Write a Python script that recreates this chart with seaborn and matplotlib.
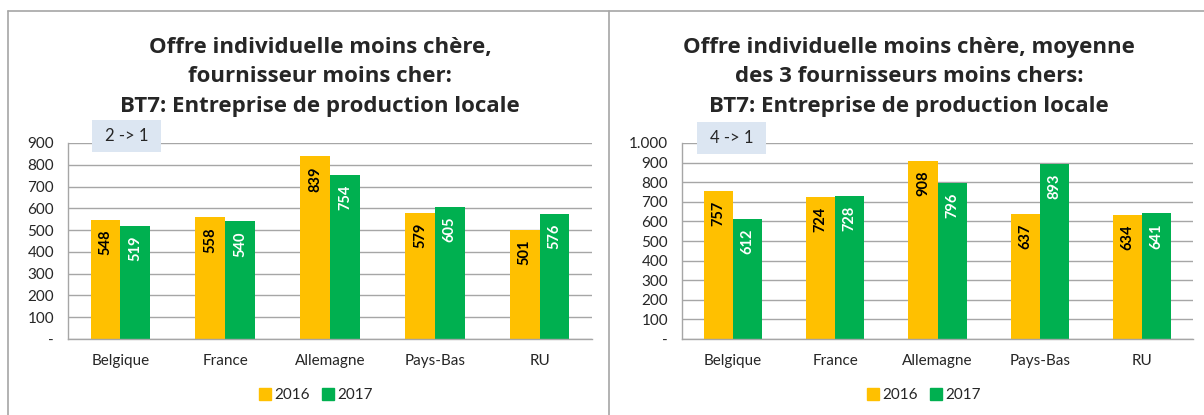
import matplotlib
matplotlib.use("Agg")
import matplotlib.pyplot as plt
from matplotlib.lines import Line2D
from matplotlib.patches import Rectangle
import numpy as np
import pandas as pd
import seaborn as sns

# data
pays = ["Belgique", "France", "Allemagne", "Pays-Bas", "RU"]
annees = ["2016", "2017"]
gauche_2016 = [548, 558, 839, 579, 501]
gauche_2017 = [519, 540, 754, 605, 576]
droite_2016 = [757, 724, 908, 637, 634]
droite_2017 = [612, 728, 796, 893, 641]

titre_gauche = "Offre individuelle moins chère,\nfournisseur moins cher:\nBT7: Entreprise de production locale"
titre_droite = "Offre individuelle moins chère, moyenne\ndes 3 fournisseurs moins chers:\nBT7: Entreprise de production locale"
note_gauche = "2 -> 1"
note_droite = "4 -> 1"

couleurs = {"2016": "#FFC000", "2017": "#00B050"}
couleur_texte = {"2016": "black", "2017": "white"}
gris = "#A6A6A6"

sns.set_theme(style="white")
plt.rcParams["font.family"] = ["Lato", "DejaVu Sans"]

W, H = 1204, 415
fig = plt.figure(figsize=(W / 100, H / 100), dpi=100)


def fx(px):
    return px / W


def fy(py):
    return 1 - py / H


def panneau(rect, v2016, v2017, ymax, titre, tx, note, note_box):
    df = pd.DataFrame({
        "Pays": pays * 2,
        "Année": ["2016"] * len(pays) + ["2017"] * len(pays),
        "Valeur": v2016 + v2017,
    })
    ax = fig.add_axes(rect)
    sns.barplot(data=df, x="Pays", y="Valeur", hue="Année", hue_order=annees,
                palette=couleurs, width=0.57, gap=0, saturation=1,
                edgecolor="none", linewidth=0, ax=ax, legend=False)
    ax.set_ylim(0, ymax)
    ax.set_xlim(-0.5, len(pays) - 0.5)
    ticks = np.arange(0, ymax + 1, 100)
    ax.set_yticks(ticks)
    ax.set_yticklabels(["-" if t == 0 else f"{t:,}".replace(",", ".") for t in ticks])
    ax.yaxis.grid(True, color=gris, linewidth=1)
    ax.set_axisbelow(True)
    ax.set_xlabel("")
    ax.set_ylabel("")
    for s in ["top", "right"]:
        ax.spines[s].set_visible(False)
    for s in ["left", "bottom"]:
        ax.spines[s].set_color(gris)
        ax.spines[s].set_linewidth(1)
    ax.tick_params(axis="y", length=5, color=gris, labelsize=11, pad=5)
    ax.tick_params(axis="x", which="major", length=0, labelsize=11, pad=11)
    ax.set_xticks(np.arange(-0.5, len(pays), 1), minor=True)
    ax.tick_params(axis="x", which="minor", length=5, color=gris)

    for cont, an in zip(ax.containers, annees):
        for bar in cont:
            h = bar.get_height()
            ax.annotate(f"{h:.0f}", (bar.get_x() + bar.get_width() / 2, h),
                        xytext=(0, -7), textcoords="offset points",
                        rotation=90, ha="center", va="top",
                        fontsize=10.5, fontweight="bold", color=couleur_texte[an])

    fig.text(tx, fy(77), titre, ha="center", va="center", fontsize=16,
             fontweight="bold", linespacing=1.52, family=["Open Sans", "DejaVu Sans"])

    x0, y0, x1, y1 = note_box
    fig.add_artist(Rectangle((fx(x0), fy(y1)), fx(x1 - x0), fy(y0) - fy(y1),
                             transform=fig.transFigure, facecolor="#DCE6F2",
                             edgecolor="none", zorder=5))
    fig.text(fx((x0 + x1) / 2), fy((y0 + y1) / 2), note, ha="center",
             va="center", fontsize=12, zorder=6)

    handles = [Rectangle((0, 0), 1, 1, color=couleurs[a]) for a in annees]
    fig.legend(handles, annees, loc="center",
               bbox_to_anchor=(rect[0] + rect[2] / 2 - fx(14), fy(395)),
               ncol=2, frameon=False, fontsize=11, handlelength=0.8,
               handleheight=0.8, handletextpad=0.2, columnspacing=0.8)
    return ax


panneau([fx(68), fy(339), fx(592 - 68), fy(143) - fy(339)],
        gauche_2016, gauche_2017, 900, titre_gauche, fx(320),
        note_gauche, (92, 120, 161, 152))
panneau([fx(682), fy(339), fx(1193 - 682), fy(143) - fy(339)],
        droite_2016, droite_2017, 1000, titre_droite, fx(909),
        note_droite, (697, 122, 766, 154))

# frame lines
fig.add_artist(Line2D([fx(8), 1], [fy(11), fy(11)], color=gris, linewidth=1.2))
fig.add_artist(Line2D([fx(8), fx(8)], [fy(11), 0], color=gris, linewidth=1.2))
fig.add_artist(Line2D([fx(609), fx(609)], [fy(11), 0], color=gris, linewidth=1.2))

fig.savefig("out.png", dpi=100)
